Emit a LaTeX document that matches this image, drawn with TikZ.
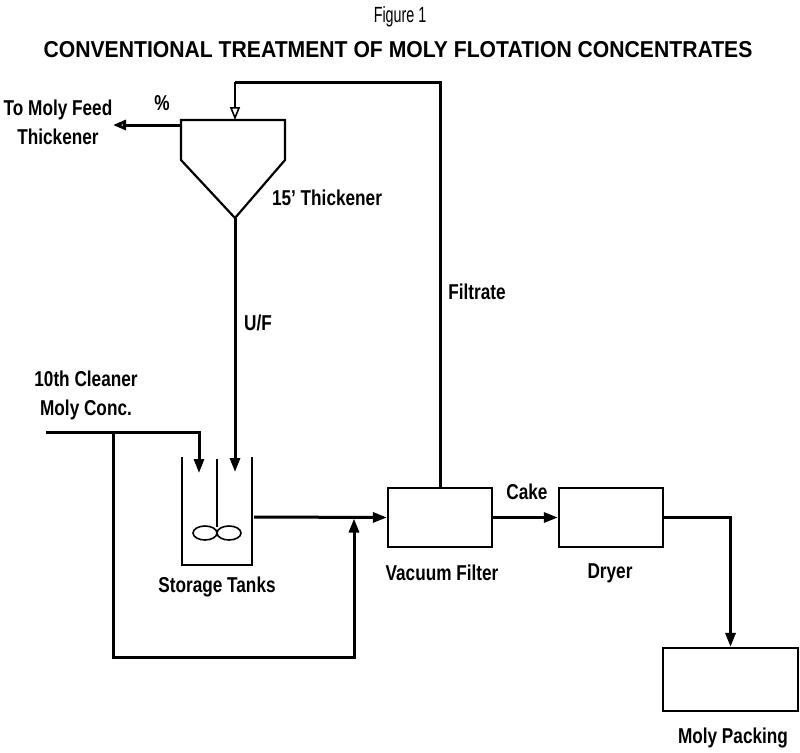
\documentclass[tikz,border=0pt]{standalone}
\usepackage{fontspec}
\setmainfont{Liberation Sans}[FakeStretch=0.8]
\newfontfamily\titlefont{Liberation Sans}[FakeStretch=0.92]
\newfontfamily\figfont{Liberation Sans}[FakeStretch=0.65]
\usetikzlibrary{arrows.meta,positioning}
\tikzset{
  pipe/.style={line width=3pt},
  flow/.style={pipe,-{Triangle[length=14pt,width=10pt]}},
  vent/.style={-{Triangle[open,length=13pt,width=10pt]}},
  vessel/.style={line width=2.2pt},
  unit/.style={draw,line width=2.2pt,minimum width=104pt,minimum height=59pt,inner sep=0pt},
  lbl/.style={font=\fontsize{21.5}{29}\selectfont\bfseries,inner sep=0pt,align=center},
}
\begin{document}
\begin{tikzpicture}[x=1pt,y=-1pt]
	\useasboundingbox (0,0) rectangle (800,752);
	% title
	\node[font=\figfont\fontsize{22}{24}\selectfont,inner sep=0pt] (fig) at (400,17) {Figure 1};
	\node[font=\titlefont\fontsize{23}{26}\selectfont\bfseries,inner sep=0pt] (title) at (398,50) {CONVENTIONAL TREATMENT OF MOLY FLOTATION CONCENTRATES};
	% thickener
	\coordinate (thkin) at (235,120);
	\coordinate (thkof) at (181,125);
	\coordinate (thkuf) at (235,218);
	\draw[vessel] (181,120) -- (285,120) -- (285,160) -- (thkuf) -- (181,160) -- cycle;
	\coordinate (ofend) at (113,125);
	\draw[pipe,vent] (thkof) -- (ofend);
	% storage tank with agitator
	\draw[vessel] (182,457) -- (182,565) -- (252,565) -- (252,457);
	\draw[line width=1.6pt] (217,459) -- (217,527);
	\draw[line width=1.6pt] (205,533) ellipse (12 and 7);
	\draw[line width=1.6pt] (229,533) ellipse (12 and 7);
	\coordinate (tkout) at (254,517);
	% units
	\node[unit] (filt) at (440,517.5) {};
	\node[unit] (dry) at (611,517.5) {};
	\node[unit,minimum width=135pt,minimum height=63pt] (pack) at (730.5,679.5) {};
	% streams
	\coordinate (ftop) at (440,82);
	\coordinate (rtop) at (235,82);
	\draw[pipe] (filt.north) -- (ftop) -- (rtop);
	\draw[line width=1.6pt,vent] (rtop) -- (thkin);
	\draw[flow] (thkuf) -- (235,472);
	\coordinate (feed) at (46,432);
	\coordinate (tee) at (113,432);
	\draw[flow] (feed) -- (199,432) -- (199,473);
	\draw[flow] (tee) -- (113,657) -- (354,657) -- (354,518.5);
	\draw[flow] (tkout) -- (filt.west);
	\draw[flow] (filt.east) -- (dry.west);
	\draw[flow] (dry.east) -| (pack.north);
	% labels
	\node[lbl] (lof) at (58,122) {To Moly Feed\\Thickener};
	\node[lbl] (lpct) at (162,103) {\%};
	\node[lbl] (lthk) at (327,198) {15' Thickener};
	\node[lbl] (luf) at (258,323) {U/F};
	\node[lbl] (lfil) at (477,292) {Filtrate};
	\node[lbl] (lfeed) at (86,395) {10th Cleaner\\Moly Conc.};
	\node[lbl] (ltk) at (217,587) {Storage Tanks};
	\node[lbl] (lfilt) at (442,573) {Vacuum Filter};
	\node[lbl] (lcake) at (527,492) {Cake};
	\node[lbl] (ldry) at (610,573) {Dryer};
	\node[lbl] (lpack) at (733,738) {Moly Packing};
\end{tikzpicture}
\end{document}
